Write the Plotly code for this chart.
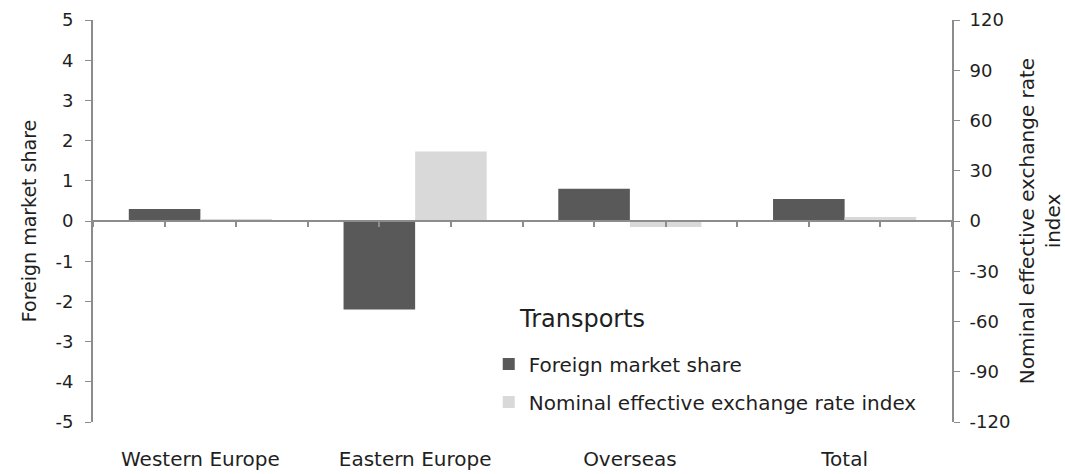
import plotly.graph_objects as go

categories = ["Western Europe", "Eastern Europe", "Overseas", "Total"]
market_share = [0.3, -2.2, 0.8, 0.55]
exchange_rate = [0.8, 41.5, -3.6, 2.4]
left_ticks = [5, 4, 3, 2, 1, 0, -1, -2, -3, -4, -5]
right_ticks = [120, 90, 60, 30, 0, -30, -60, -90, -120]

DARK = "#595959"
LIGHT = "#d9d9d9"
AXIS = "#8c8c8c"
TEXT = "#1f1f1f"
FONT = "DejaVu Sans"

idx = list(range(len(categories)))
bar_w = 1 / 3
# boundary ticks every third of a category along the zero line
sub_ticks = [-0.5 + k / 3 for k in range(3 * len(categories) + 1)]

fig = go.Figure()
fig.add_trace(go.Bar(
    x=[i - bar_w / 2 for i in idx], y=market_share, width=bar_w,
    name="Foreign market share", legendgroup="a",
    marker=dict(color=DARK, line=dict(width=0)),
    xaxis="x", yaxis="y",
))
fig.add_trace(go.Bar(
    x=[i + bar_w / 2 for i in idx], y=exchange_rate, width=bar_w,
    name="Nominal effective exchange rate index", legendgroup="b",
    marker=dict(color=LIGHT, line=dict(width=0)),
    xaxis="x2", yaxis="y2",
))

# legend heading
fig.add_annotation(
    text="Transports", xref="paper", yref="paper",
    x=0.4935, y=0.256, xanchor="left", yanchor="middle",
    showarrow=False, font=dict(size=24, color=TEXT),
)

fig.update_layout(
    width=1065, height=474,
    margin=dict(l=93, r=113, t=20, b=52),
    paper_bgcolor="white", plot_bgcolor="white",
    font=dict(family=FONT, size=18, color=TEXT),
    barmode="overlay",
    showlegend=True,
    legend=dict(
        x=0.4607, y=0.193, xanchor="left", yanchor="top",
        bgcolor="rgba(0,0,0,0)",
        font=dict(size=20, color=TEXT),
        itemwidth=30, tracegroupgap=9,
    ),
    xaxis=dict(
        range=[-0.5, 3.5], tickvals=idx, ticktext=categories,
        showline=False, ticks="", showgrid=False, zeroline=False,
        ticklabelstandoff=23, tickfont=dict(size=20), automargin=False,
    ),
    xaxis2=dict(
        overlaying="x", anchor="free", position=0.5, side="bottom",
        range=[-0.5, 3.5], tickvals=sub_ticks, showticklabels=False,
        showline=True, linecolor=AXIS, linewidth=2,
        ticks="outside", ticklen=5, tickcolor=AXIS, tickwidth=2,
        showgrid=False, zeroline=False, automargin=False,
    ),
    yaxis=dict(
        range=[-5, 5], tickvals=left_ticks, ticktext=[str(v) for v in left_ticks],
        showline=True, linecolor=AXIS, linewidth=2,
        ticks="outside", ticklen=6, tickcolor=AXIS, tickwidth=1,
        ticklabelstandoff=8,
        showgrid=False, zeroline=False, automargin=False,
        tickfont=dict(size=18),
        title=dict(text="Foreign market share", font=dict(size=19), standoff=14),
    ),
    yaxis2=dict(
        range=[-120, 120], tickvals=right_ticks,
        ticktext=[str(v) for v in right_ticks],
        overlaying="y", side="right", anchor="x",
        showline=True, linecolor=AXIS, linewidth=2,
        ticks="outside", ticklen=6, tickcolor=AXIS, tickwidth=1,
        ticklabelstandoff=6,
        showgrid=False, zeroline=False, automargin=False,
        tickfont=dict(size=18),
        title=dict(text="Nominal effective exchange rate<br>index",
                   font=dict(size=20), standoff=12),
    ),
)

fig.write_html("out.html")
